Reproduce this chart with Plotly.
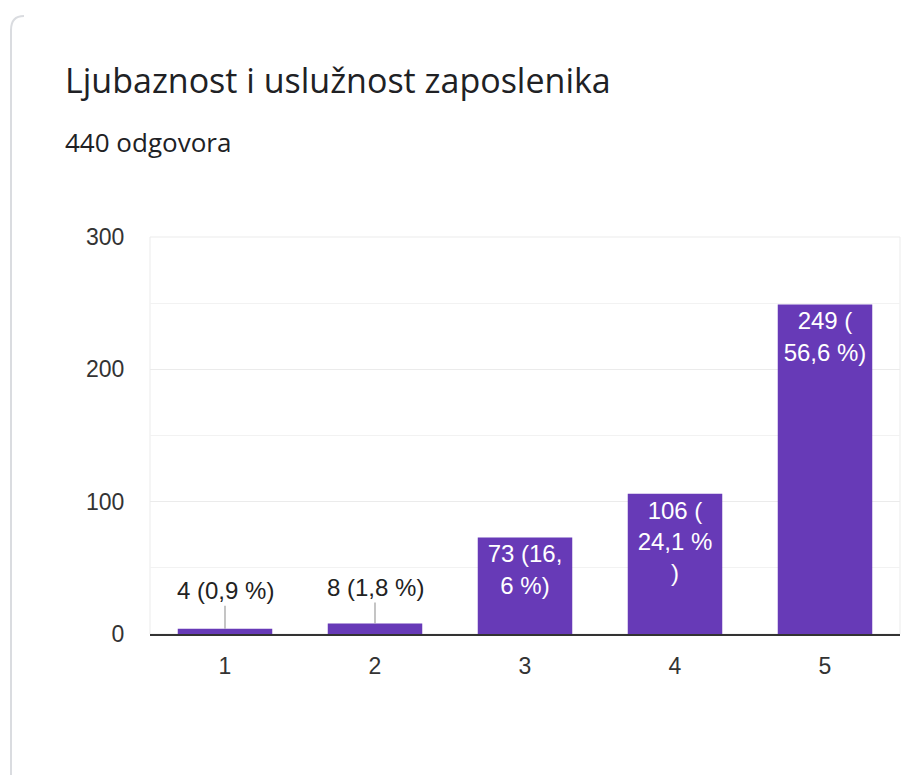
import plotly.graph_objects as go

categories = ["1", "2", "3", "4", "5"]
values = [4, 8, 73, 106, 249]
inside_labels = ["", "", "73 (16,<br>6 %)", "106 (<br>24,1 %<br>)", "249 (<br>56,6 %)"]
outside_labels = ["4 (0,9 %)", "8 (1,8 %)", "", "", ""]
y_ticks = [0, 100, 200, 300]

OFF = 8  # browser body margin
W, H = 916 - 2 * OFF, 783 - 2 * OFF
# page-pixel geometry of the plot area
PL, PR, PT, PB = 150, 900, 237, 634
L, T = PL - OFF, PT - OFF
R = W - (PR - OFF)
B = H - (PB - OFF)
pw, ph = W - L - R, H - T - B

def px(x):
    return (x - OFF - L) / pw

def py(y):
    return (PB - y) / ph

fig = go.Figure()
fig.add_trace(go.Bar(
    x=categories, y=values, width=0.63,
    marker=dict(color="#673ab7", line=dict(width=0)),
    text=inside_labels, textposition="inside", insidetextanchor="end",
    textfont=dict(color="white", size=24, family="Liberation Sans, Arial"),
    constraintext="none", cliponaxis=False, hoverinfo="skip",
))

annotations = []
ays = [-38, -36, 0, 0, 0]
for i, (v, t) in enumerate(zip(values, outside_labels)):
    if t:
        annotations.append(dict(
            x=i, y=v, xref="x", yref="y", text=t, showarrow=True,
            arrowhead=0, arrowwidth=1.2, arrowcolor="#9e9e9e", ax=0, ay=ays[i],
            font=dict(size=24, color="#222", family="Liberation Sans, Arial"),
        ))

annotations.append(dict(
    x=px(63), y=py(80), xref="paper", yref="paper", xanchor="left", yanchor="middle",
    text="Ljubaznost i uslužnost zaposlenika", showarrow=False,
    font=dict(size=34, color="#202124", family="Open Sans, Roboto"),
))
annotations.append(dict(
    x=px(63), y=py(142), xref="paper", yref="paper", xanchor="left", yanchor="middle",
    text="440 odgovora", showarrow=False,
    font=dict(size=26, color="#202124", family="Open Sans, Roboto"),
))

shapes = [
    dict(
        type="path", xref="paper", yref="paper",
        path=f"M {px(11)} {py(800)} L {px(11)} {py(30)} Q {px(11)} {py(16)} {px(24)} {py(16)}",
        line=dict(color="#dadce0", width=2),
    ),
    dict(
        type="rect", xref="paper", yref="paper", x0=0, x1=1, y0=0, y1=1,
        line=dict(color="#ebebeb", width=1), layer="below",
    ),
]

fig.update_layout(
    width=W, height=H,
    margin=dict(l=L, r=R, t=T, b=B, pad=0),
    paper_bgcolor="white", plot_bgcolor="white",
    showlegend=False,
    annotations=annotations, shapes=shapes,
    xaxis=dict(
        type="category", range=[-0.5, 4.5], showgrid=False,
        showline=True, linecolor="#333", linewidth=2,
        ticks="outside", ticklen=10, tickcolor="rgba(0,0,0,0)",
        tickfont=dict(size=23, color="#333", family="Liberation Sans, Arial"),
        fixedrange=True,
    ),
    yaxis=dict(
        range=[0, 300], tickvals=y_ticks, zeroline=False,
        showline=False,
        showgrid=True, gridcolor="#ebebeb", gridwidth=1,
        minor=dict(dtick=50, showgrid=True, gridcolor="#f2f2f2", gridwidth=1),
        ticks="outside", ticklen=20, tickcolor="rgba(0,0,0,0)",
        tickfont=dict(size=23, color="#333", family="Liberation Sans, Arial"),
        fixedrange=True,
    ),
)

fig.write_html("out.html")
